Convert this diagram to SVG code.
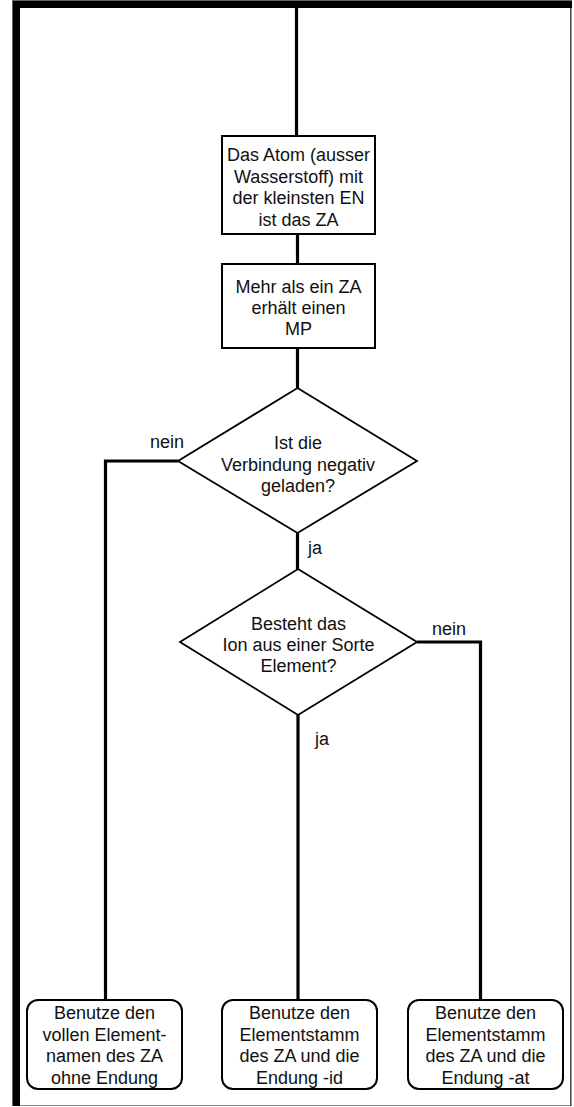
<svg xmlns="http://www.w3.org/2000/svg" width="574" height="1107" viewBox="0 0 574 1107">
  <style>
    .t { font-family: "Liberation Sans", Arial, sans-serif; font-size: 18px; fill: #111; text-anchor: middle; }
    .lbl { font-family: "Liberation Sans", Arial, sans-serif; font-size: 18px; fill: #111; }
    .box { fill: #fff; stroke: #000; stroke-width: 2; }
    .dia { fill: #fff; stroke: #000; stroke-width: 1.8; }
    .wire { fill: none; stroke: #000; stroke-width: 3.2; stroke-linejoin: miter; stroke-linecap: butt; }
  </style>

  <!-- page background and frame: heavy top/left edge, thin right/bottom edge -->
  <rect x="0" y="0" width="574" height="1107" fill="#fff"/>
  <line x1="12" y1="1105.5" x2="571.5" y2="1105.5" stroke="#888" stroke-width="1"/>
  <line x1="570.8" y1="0" x2="570.8" y2="1106" stroke="#444" stroke-width="1.5"/>
  <rect x="12" y="0" width="560" height="8" fill="#000"/>
  <rect x="12" y="0" width="8" height="1106" fill="#000"/>
  <line x1="12" y1="0.5" x2="572" y2="0.5" stroke="#666" stroke-width="1"/>
  <line x1="12.5" y1="0" x2="12.5" y2="1106" stroke="#666" stroke-width="1"/>

  <!-- connectors -->
  <g id="connectors" class="wire">
    <line x1="296.5" y1="8" x2="296.5" y2="136"/>
    <line x1="297.5" y1="234" x2="297.5" y2="264"/>
    <line x1="297.5" y1="348" x2="297.5" y2="388"/>
    <polyline points="178,461 105.5,461 105.5,1000"/>
    <line x1="297.5" y1="533" x2="297.5" y2="569"/>
    <polyline points="417,642 480.5,642 480.5,1000"/>
    <line x1="298" y1="715" x2="298" y2="1000"/>
  </g>

  <!-- branch labels -->
  <g id="labels">
    <text class="lbl" x="150" y="448">nein</text>
    <text class="lbl" x="308" y="554">ja</text>
    <text class="lbl" x="432" y="635">nein</text>
    <text class="lbl" x="315" y="745">ja</text>
  </g>

  <g id="start">
    <rect class="box" x="222" y="136" width="153" height="98"/>
    <text class="t" x="298.5" y="161">Das Atom (ausser</text>
    <text class="t" x="298.5" y="182.5">Wasserstoff) mit</text>
    <text class="t" x="298.5" y="204">der kleinsten EN</text>
    <text class="t" x="298.5" y="225.5">ist das ZA</text>
  </g>

  <g id="mp">
    <rect class="box" x="222" y="264" width="153" height="84"/>
    <text class="t" x="298.5" y="293">Mehr als ein ZA</text>
    <text class="t" x="298.5" y="314">erhält einen</text>
    <text class="t" x="298.5" y="335">MP</text>
  </g>

  <g id="decision-charge">
    <polygon class="dia" points="297.5,388 417,461 297.5,533 178,461"/>
    <text class="t" x="298" y="449">Ist die</text>
    <text class="t" x="298" y="470.5">Verbindung negativ</text>
    <text class="t" x="298" y="492">geladen?</text>
  </g>

  <g id="decision-element">
    <polygon class="dia" points="298,569 417,642 298,715 180,642"/>
    <text class="t" x="298.5" y="630">Besteht das</text>
    <text class="t" x="298.5" y="651">Ion aus einer Sorte</text>
    <text class="t" x="298.5" y="672">Element?</text>
  </g>

  <g id="result-full-name">
    <rect class="box" x="27" y="1000" width="155" height="89" rx="11" ry="11"/>
    <text class="t" x="104.5" y="1019">Benutze den</text>
    <text class="t" x="104.5" y="1040.5">vollen Element-</text>
    <text class="t" x="104.5" y="1062">namen des ZA</text>
    <text class="t" x="104.5" y="1083.5">ohne Endung</text>
  </g>

  <g id="result-id">
    <rect class="box" x="222" y="1000" width="155" height="89" rx="11" ry="11"/>
    <text class="t" x="299.5" y="1019">Benutze den</text>
    <text class="t" x="299.5" y="1040.5">Elementstamm</text>
    <text class="t" x="299.5" y="1062">des ZA und die</text>
    <text class="t" x="299.5" y="1083.5">Endung -id</text>
  </g>

  <g id="result-at">
    <rect class="box" x="408" y="1000" width="155" height="89" rx="11" ry="11"/>
    <text class="t" x="485.5" y="1019">Benutze den</text>
    <text class="t" x="485.5" y="1040.5">Elementstamm</text>
    <text class="t" x="485.5" y="1062">des ZA und die</text>
    <text class="t" x="485.5" y="1083.5">Endung -at</text>
  </g>
</svg>
